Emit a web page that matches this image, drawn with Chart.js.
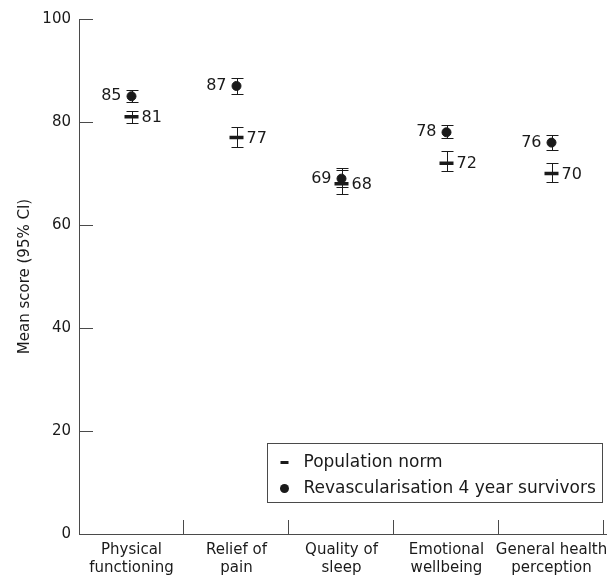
<!DOCTYPE html>
<html>
<head>
<meta charset="utf-8">
<script src="https://cdn.jsdelivr.net/npm/chart.js@4.4.1/dist/chart.umd.min.js"></script>
<style>
  html, body { margin: 0; padding: 0; background: #fff; }
  #wrap { width: 607px; height: 580px; }
</style>
</head>
<body>
<div id="wrap"><canvas id="c" width="607" height="580"></canvas></div>
<script>
// Domains of the health questionnaire
const categories = [
  ['Physical', 'functioning'],
  ['Relief of', 'pain'],
  ['Quality of', 'sleep'],
  ['Emotional', 'wellbeing'],
  ['General health', 'perception']
];

// Revascularisation 4 year survivors: mean and 95% CI
const revascMean  = [85, 87, 69, 78, 76];
const revascLower = [83.8, 85.5, 67.4, 76.8, 74.6];
const revascUpper = [86.2, 88.5, 70.7, 79.5, 77.5];

// Population norm: mean and 95% CI
const normMean  = [81, 77, 68, 72, 70];
const normLower = [79.8, 75.1, 66.0, 70.5, 68.4];
const normUpper = [82.2, 79.1, 71.1, 74.3, 72.1];

const yTicks = [0, 20, 40, 60, 80, 100];

const FONT = '"DejaVu Sans", sans-serif';
const INK = '#1a1a1a';
const AXIS = '#4a4a4a';

// Vertical CI whiskers with caps, drawn beneath the markers
const errorBars = {
  id: 'errorBars',
  beforeDatasetsDraw(chart) {
    const { ctx, scales: { x, y } } = chart;
    const sets = [[revascLower, revascUpper], [normLower, normUpper]];
    ctx.save();
    ctx.strokeStyle = INK;
    ctx.lineWidth = 1;
    sets.forEach(([lo, hi]) => {
      lo.forEach((v, i) => {
        const px = Math.round(x.getPixelForValue(i)) + 0.5;
        const yl = Math.round(y.getPixelForValue(v)) + 0.5;
        const yh = Math.round(y.getPixelForValue(hi[i])) + 0.5;
        ctx.beginPath();
        ctx.moveTo(px, yl); ctx.lineTo(px, yh);
        ctx.moveTo(px - 6, yl); ctx.lineTo(px + 6, yl);
        ctx.moveTo(px - 6, yh); ctx.lineTo(px + 6, yh);
        ctx.stroke();
      });
    });
    ctx.restore();
  }
};

// Inward tick marks on both axes
const innerTicks = {
  id: 'innerTicks',
  afterDraw(chart) {
    const { ctx, scales: { x, y }, chartArea: ca } = chart;
    ctx.save();
    ctx.strokeStyle = AXIS;
    ctx.lineWidth = 1;
    ctx.beginPath();
    yTicks.forEach(v => {
      const py = Math.round(y.getPixelForValue(v)) + 0.5;
      ctx.moveTo(ca.left, py); ctx.lineTo(ca.left + 14, py);
    });
    const half = (x.getPixelForValue(1) - x.getPixelForValue(0)) / 2;
    categories.forEach((c, i) => {
      const px = Math.round(x.getPixelForValue(i) + half) - 0.5;
      ctx.moveTo(px, ca.bottom); ctx.lineTo(px, ca.bottom - 14);
    });
    // carry the baseline to the edge of the canvas
    const by = Math.round(ca.bottom) + 0.5;
    ctx.moveTo(ca.right, by); ctx.lineTo(chart.width, by);
    ctx.stroke();
    ctx.restore();
  }
};

// Mean values written beside each marker
const valueLabels = {
  id: 'valueLabels',
  afterDatasetsDraw(chart) {
    const { ctx, scales: { x, y } } = chart;
    ctx.save();
    ctx.fillStyle = INK;
    ctx.font = '16px ' + FONT;
    ctx.textBaseline = 'middle';
    revascMean.forEach((v, i) => {
      ctx.textAlign = 'right';
      ctx.fillText(String(v), x.getPixelForValue(i) - 10, y.getPixelForValue(v));
    });
    normMean.forEach((v, i) => {
      ctx.textAlign = 'left';
      ctx.fillText(String(v), x.getPixelForValue(i) + 10, y.getPixelForValue(v) + 1);
    });
    ctx.restore();
  }
};

// Boxed key in the lower right of the plot
const boxedLegend = {
  id: 'boxedLegend',
  afterDraw(chart) {
    const { ctx, chartArea: ca } = chart;
    const w = 335, h = 59;
    const left = Math.round(ca.right - 2 - w) + 0.5;
    const top = Math.round(ca.bottom - 32 - h) + 0.5;
    ctx.save();
    ctx.fillStyle = '#fff';
    ctx.fillRect(left, top, w, h);
    ctx.strokeStyle = AXIS;
    ctx.lineWidth = 1;
    ctx.strokeRect(left, top, w, h);
    const ds = chart.data.datasets;
    const rowNorm = top + 19, rowRev = top + 45;
    const mx = left + 17;
    // population norm dash
    ctx.fillStyle = INK;
    ctx.fillRect(mx - 4, rowNorm - 1.5, 8, 3);
    // revascularisation dot
    ctx.beginPath();
    ctx.arc(mx, rowRev, 4.5, 0, Math.PI * 2);
    ctx.fill();
    ctx.font = '17px ' + FONT;
    ctx.textAlign = 'left';
    ctx.textBaseline = 'middle';
    ctx.fillText(ds[1].label, left + 36, rowNorm);
    ctx.fillText(ds[0].label, left + 36, rowRev);
    ctx.restore();
  }
};

new Chart(document.getElementById('c'), {
  type: 'line',
  data: {
    labels: categories,
    datasets: [
      {
        label: 'Revascularisation 4 year survivors',
        data: revascMean,
        showLine: false,
        pointStyle: 'circle',
        pointRadius: 4.5,
        pointBorderWidth: 1,
        pointBackgroundColor: INK,
        pointBorderColor: INK,
        order: 0
      },
      {
        label: 'Population norm',
        data: normMean,
        showLine: false,
        pointStyle: 'line',
        pointRadius: 7,
        pointBorderWidth: 3.5,
        pointBorderColor: INK,
        pointBackgroundColor: INK,
        order: 1
      }
    ]
  },
  options: {
    responsive: false,
    animation: false,
    devicePixelRatio: 1,
    layout: { autoPadding: false, padding: { top: 19, right: 3, left: 0, bottom: 0 } },
    plugins: {
      legend: { display: false },
      tooltip: { enabled: false }
    },
    scales: {
      x: {
        type: 'category',
        offset: true,
        grid: { display: false, drawTicks: false },
        border: { display: true, color: AXIS, width: 1 },
        ticks: {
          color: INK,
          padding: 7,
          maxRotation: 0,
          autoSkip: false,
          font: { family: FONT, size: 15, lineHeight: 1.2 }
        },
        afterFit(scale) {
          scale.height = 46;
          scale.paddingLeft = 0;
          scale.paddingRight = 0;
        }
      },
      y: {
        min: 0,
        max: 100,
        grid: { display: false, drawTicks: false },
        border: { display: true, color: AXIS, width: 1 },
        afterBuildTicks(scale) { scale.ticks = yTicks.map(v => ({ value: v })); },
        ticks: {
          color: INK,
          padding: 8,
          font: { family: FONT, size: 15 }
        },
        title: {
          display: true,
          text: 'Mean score (95% CI)',
          color: INK,
          padding: { top: 16, bottom: 0 },
          font: { family: FONT, size: 15, lineHeight: 1.2 }
        },
        afterFit(scale) { scale.width = 79; }
      }
    }
  },
  plugins: [errorBars, innerTicks, valueLabels, boxedLegend]
});
</script>
</body>
</html>
